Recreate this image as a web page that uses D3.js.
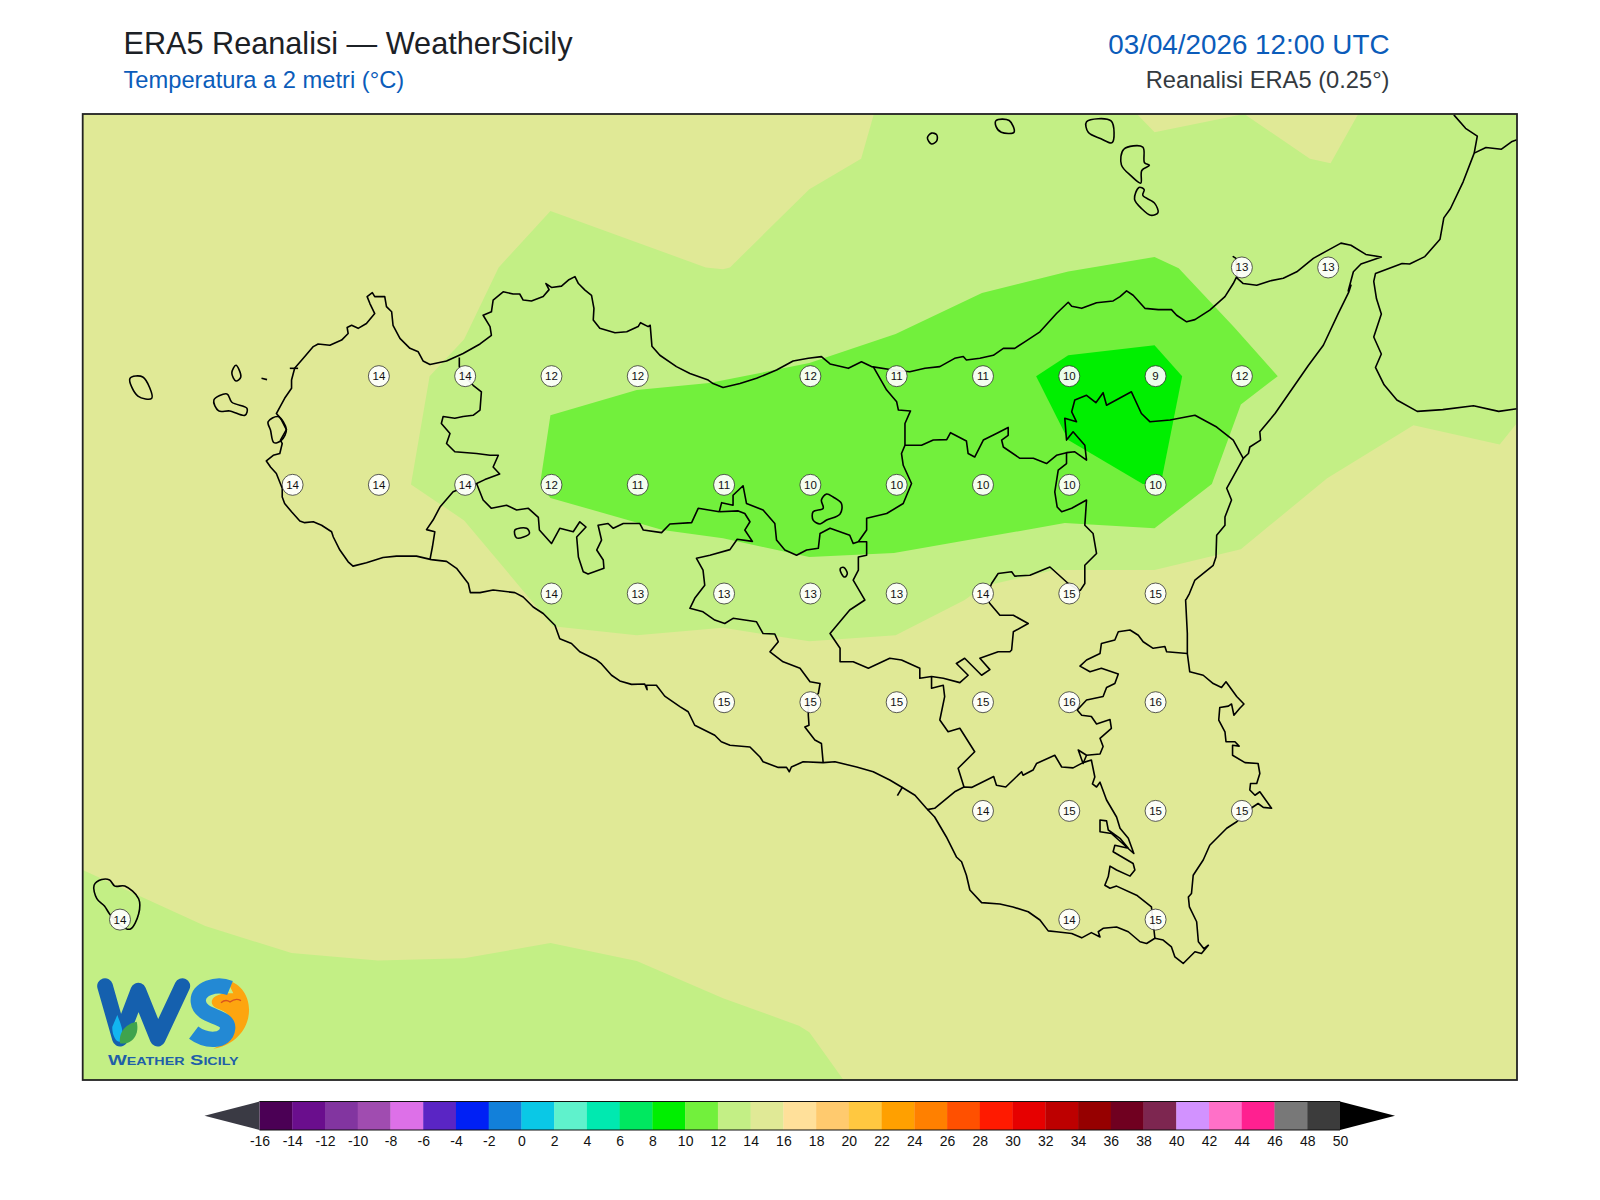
<!DOCTYPE html>
<html>
<head>
<meta charset="utf-8">
<title>ERA5 Reanalisi - WeatherSicily</title>
<script src="https://cdn.jsdelivr.net/npm/d3@7"></script>
<style>
  html, body { margin: 0; padding: 0; background: #fff; }
  svg { display: block; font-family: "Liberation Sans", Arial, sans-serif; }
</style>
</head>
<body>
<svg id="chart" width="1600" height="1200"></svg>
<script>
// temperature levels and colours of the colour bar
var levels = [-16,-14,-12,-10,-8,-6,-4,-2,0,2,4,6,8,10,12,14,16,18,20,22,24,26,28,30,32,34,36,38,40,42,44,46,48,50];
var binColors = ['#4b0055','#6a0e8d','#8235a0','#a04cb0','#dd70e8','#5a25c4','#0020f5','#1280da','#0ac8e6','#5ff2cc','#00e9b0','#00e860','#00ef00','#72f03c','#c3ef85','#e0e996','#ffe09a','#ffca6e','#ffc840','#ffa000','#ff8000','#ff5000','#ff1a00','#e60000','#bd0000','#960000','#700020','#7d2650','#d292ff','#ff70c8','#ff2090','#787878','#3c3c3c'];

// grid point values: [lon, lat, temp]
var gridValues = [
  [15.25,38.25,13],[15.5,38.25,13],
  [12.75,38,14],[13,38,14],[13.25,38,12],[13.5,38,12],[14,38,12],[14.25,38,11],[14.5,38,11],[14.75,38,10],[15,38,9],[15.25,38,12],
  [12.5,37.75,14],[12.75,37.75,14],[13,37.75,14],[13.25,37.75,12],[13.5,37.75,11],[13.75,37.75,11],[14,37.75,10],[14.25,37.75,10],[14.5,37.75,10],[14.75,37.75,10],[15,37.75,10],
  [13.25,37.5,14],[13.5,37.5,13],[13.75,37.5,13],[14,37.5,13],[14.25,37.5,13],[14.5,37.5,14],[14.75,37.5,15],[15,37.5,15],
  [13.75,37.25,15],[14,37.25,15],[14.25,37.25,15],[14.5,37.25,15],[14.75,37.25,16],[15,37.25,16],
  [14.5,37,14],[14.75,37,15],[15,37,15],[15.25,37,15],
  [12,36.75,14],[14.75,36.75,14],[15,36.75,15]
];

// filled contour bands, [lon, lat]
var band12North = [[14.187,38.603],[14.949,38.603],[15,38.561],[15.26,38.603],[15.45,38.5],[15.51,38.49],[15.59,38.603],[16.05,38.603],[16.05,37.892],[16,37.843],[15.75,37.887],[15.5,37.765],[15.25,37.602],[15,37.554],[14.71,37.554],[14.505,37.517],[14.45,37.485],[14.25,37.404],[14,37.39],[13.75,37.421],[13.5,37.404],[13.257,37.425],[13,37.668],[12.846,37.751],[12.9,38],[13,38.085],[13.1,38.25],[13.25,38.38],[13.7,38.25],[13.75,38.246],[13.77,38.25],[14,38.43],[14.15,38.5]];
var band12South = [[11.895,36.864],[12.25,36.735],[12.5,36.673],[12.75,36.656],[13,36.661],[13.25,36.696],[13.5,36.655],[13.75,36.569],[13.97,36.506],[14,36.491],[14.1,36.38],[11.895,36.38]];
var band10 = [[13.25,37.91],[13.5,37.968],[13.71,37.984],[14,38.03],[14.25,38.097],[14.5,38.191],[14.75,38.241],[15,38.274],[15.07,38.248],[15.23,38.113],[15.357,38],[15.25,37.935],[15.166,37.752],[15,37.65],[14.74,37.662],[14.245,37.593],[14,37.584],[13.75,37.627],[13.575,37.646],[13.25,37.72],[13.22,37.752]];
var band8 = [[14.657,38],[14.75,38.048],[15,38.071],[15.08,38],[15.018,37.752],[14.966,37.752],[14.75,37.853]];

// coast of Sicily, closed
var coastSicily = [[12.905,37.578],[12.862,37.586],[12.804,37.586],[12.765,37.583],[12.717,37.571],[12.678,37.563],[12.664,37.573],[12.64,37.6],[12.621,37.63],[12.616,37.642],[12.587,37.657],[12.563,37.665],[12.538,37.663],[12.524,37.667],[12.5,37.688],[12.48,37.707],[12.473,37.722],[12.473,37.742],[12.456,37.776],[12.439,37.791],[12.427,37.805],[12.447,37.818],[12.466,37.822],[12.473,37.845],[12.468,37.853],[12.485,37.877],[12.471,37.899],[12.464,37.907],[12.456,37.914],[12.48,37.949],[12.5,37.972],[12.5,37.991],[12.509,38.018],[12.534,38.041],[12.563,38.068],[12.577,38.074],[12.611,38.071],[12.645,38.083],[12.664,38.098],[12.661,38.112],[12.674,38.117],[12.693,38.11],[12.717,38.121],[12.741,38.144],[12.727,38.167],[12.719,38.183],[12.734,38.192],[12.741,38.183],[12.77,38.183],[12.775,38.16],[12.79,38.148],[12.794,38.117],[12.814,38.087],[12.843,38.064],[12.867,38.056],[12.881,38.035],[12.901,38.027],[12.949,38.035],[12.997,38.052],[13.046,38.074],[13.079,38.094],[13.075,38.114],[13.055,38.14],[13.079,38.148],[13.084,38.175],[13.113,38.194],[13.142,38.189],[13.161,38.189],[13.171,38.175],[13.195,38.173],[13.229,38.183],[13.246,38.199],[13.237,38.213],[13.253,38.204],[13.282,38.207],[13.302,38.221],[13.321,38.229],[13.331,38.213],[13.35,38.198],[13.369,38.186],[13.376,38.156],[13.374,38.129],[13.393,38.11],[13.437,38.1],[13.471,38.102],[13.504,38.114],[13.511,38.123],[13.533,38.114],[13.539,38.117],[13.544,38.069],[13.567,38.048],[13.615,38.022],[13.654,38.006],[13.707,37.991],[13.721,37.983],[13.75,37.974],[13.799,37.983],[13.847,37.995],[13.905,38.014],[13.953,38.035],[13.997,38.041],[14.035,38.045],[14.06,38.028],[14.113,38.018],[14.151,38.033],[14.18,38.022],[14.243,38.014],[14.291,38.01],[14.335,38.018],[14.378,38.022],[14.421,38.041],[14.446,38.045],[14.455,38.037],[14.494,38.041],[14.533,38.048],[14.562,38.064],[14.595,38.064],[14.624,38.079],[14.668,38.102],[14.716,38.144],[14.75,38.17],[14.76,38.161],[14.789,38.156],[14.832,38.169],[14.88,38.173],[14.9,38.183],[14.919,38.196],[14.938,38.186],[14.972,38.156],[15.011,38.153],[15.049,38.153],[15.064,38.14],[15.093,38.125],[15.117,38.13],[15.16,38.152],[15.204,38.183],[15.228,38.213],[15.238,38.229],[15.236,38.271],[15.228,38.275],[15.236,38.271],[15.24,38.225],[15.257,38.213],[15.296,38.209],[15.334,38.219],[15.373,38.225],[15.412,38.24],[15.46,38.271],[15.503,38.29],[15.54,38.306],[15.569,38.301],[15.612,38.28],[15.657,38.274],[15.598,38.258],[15.576,38.24],[15.561,38.196],[15.569,38.209],[15.563,38.194],[15.532,38.144],[15.489,38.071],[15.446,38.025],[15.349,37.914],[15.305,37.872],[15.307,37.853],[15.276,37.837],[15.272,37.822],[15.257,37.811],[15.209,37.742],[15.223,37.715],[15.204,37.676],[15.204,37.657],[15.18,37.634],[15.178,37.584],[15.17,37.565],[15.117,37.531],[15.101,37.5],[15.093,37.488],[15.09,37.485],[15.095,37.408],[15.095,37.362],[15.102,37.32],[15.141,37.312],[15.17,37.293],[15.194,37.284],[15.207,37.297],[15.238,37.263],[15.259,37.246],[15.247,37.236],[15.23,37.22],[15.223,37.246],[15.214,37.241],[15.189,37.238],[15.186,37.209],[15.204,37.182],[15.207,37.159],[15.233,37.159],[15.245,37.149],[15.226,37.151],[15.226,37.128],[15.262,37.111],[15.3,37.109],[15.305,37.086],[15.296,37.063],[15.278,37.063],[15.276,37.048],[15.291,37.036],[15.305,37.044],[15.339,37.006],[15.315,37.008],[15.3,37.017],[15.272,37.002],[15.238,36.975],[15.209,36.96],[15.16,36.921],[15.141,36.887],[15.112,36.852],[15.107,36.81],[15.098,36.802],[15.101,36.779],[15.122,36.745],[15.127,36.699],[15.143,36.683],[15.156,36.691],[15.136,36.672],[15.117,36.676],[15.083,36.649],[15.059,36.664],[15.049,36.687],[15.025,36.703],[15.001,36.707],[14.977,36.695],[14.958,36.699],[14.924,36.722],[14.89,36.733],[14.851,36.73],[14.837,36.722],[14.842,36.71],[14.817,36.72],[14.789,36.708],[14.76,36.718],[14.716,36.722],[14.692,36.724],[14.668,36.749],[14.634,36.768],[14.59,36.779],[14.552,36.786],[14.499,36.789],[14.465,36.818],[14.455,36.852],[14.441,36.883],[14.426,36.894],[14.397,36.94],[14.363,36.986],[14.339,37.006],[14.306,37.036],[14.267,37.055],[14.233,37.071],[14.185,37.09],[14.137,37.101],[14.074,37.113],[14.04,37.111],[13.982,37.113],[13.948,37.101],[13.942,37.09],[13.934,37.1],[13.91,37.1],[13.866,37.113],[13.857,37.124],[13.828,37.147],[13.77,37.151],[13.745,37.159],[13.726,37.174],[13.668,37.197],[13.649,37.228],[13.625,37.24],[13.581,37.264],[13.557,37.289],[13.528,37.289],[13.53,37.279],[13.523,37.292],[13.485,37.291],[13.451,37.299],[13.427,37.312],[13.398,37.338],[13.384,37.347],[13.335,37.366],[13.311,37.385],[13.277,37.396],[13.263,37.427],[13.229,37.454],[13.2,37.469],[13.171,37.492],[13.147,37.502],[13.084,37.508],[13.046,37.502],[13.018,37.502],[13.012,37.523],[12.978,37.558],[12.949,37.574],[12.905,37.578]];

// province borders
var borderTpPa = [[12.986,38.043],[12.986,38.022],[13.002,38],[13.026,37.979],[13.05,37.964],[13.046,37.922],[13.026,37.91],[12.997,37.907],[12.973,37.903],[12.939,37.907],[12.934,37.891],[12.959,37.868],[12.949,37.845],[12.973,37.826],[13.036,37.822],[13.075,37.818],[13.099,37.818],[13.084,37.791],[13.103,37.775],[13.06,37.762],[13.036,37.753],[13.002,37.745],[12.968,37.734],[12.93,37.699],[12.91,37.669],[12.891,37.647],[12.915,37.642],[12.908,37.607],[12.901,37.578]];
var borderPaAg = [[13.036,37.753],[13.055,37.715],[13.079,37.696],[13.123,37.703],[13.152,37.692],[13.186,37.696],[13.215,37.675],[13.218,37.646],[13.253,37.615],[13.277,37.65],[13.316,37.642],[13.335,37.665],[13.353,37.653],[13.326,37.63],[13.331,37.584],[13.345,37.55],[13.359,37.545],[13.405,37.558],[13.403,37.577],[13.384,37.6],[13.398,37.623],[13.388,37.657],[13.417,37.661],[13.432,37.65],[13.461,37.661],[13.509,37.661],[13.519,37.646],[13.572,37.64],[13.596,37.66],[13.659,37.663],[13.678,37.696],[13.739,37.688]];
var borderAgCl = [[13.739,37.688],[13.794,37.69],[13.813,37.684],[13.828,37.665],[13.813,37.646],[13.835,37.62],[13.791,37.625],[13.77,37.601],[13.712,37.588],[13.673,37.581],[13.692,37.554],[13.697,37.519],[13.668,37.489],[13.654,37.466],[13.692,37.458],[13.726,37.439],[13.755,37.431],[13.779,37.443],[13.847,37.435],[13.866,37.408],[13.9,37.407],[13.91,37.389],[13.886,37.366],[13.924,37.343],[13.973,37.328],[14.002,37.297],[14.031,37.293],[14.026,37.27],[13.997,37.247],[13.997,37.22],[13.999,37.197],[13.987,37.193],[14.016,37.163],[14.035,37.155],[14.04,37.111]];
var borderEnna = [[14.784,37.506],[14.75,37.523],[14.697,37.561],[14.639,37.542],[14.595,37.54],[14.586,37.55],[14.547,37.546],[14.528,37.523],[14.513,37.492],[14.523,37.477],[14.552,37.45],[14.591,37.45],[14.634,37.431],[14.591,37.412],[14.586,37.37],[14.581,37.366],[14.547,37.366],[14.494,37.351],[14.523,37.325],[14.499,37.312],[14.45,37.351],[14.426,37.339],[14.46,37.312],[14.436,37.295],[14.388,37.305],[14.354,37.309],[14.32,37.305],[14.32,37.328],[14.267,37.347],[14.233,37.351],[14.171,37.328],[14.127,37.343],[14.089,37.343],[14.089,37.374],[14.06,37.408],[14.117,37.462],[14.161,37.485],[14.127,37.531],[14.142,37.554],[14.142,37.584],[14.166,37.588],[14.166,37.619],[14.142,37.619],[14.127,37.615],[14.117,37.634],[14.06,37.65],[14.031,37.638],[14.026,37.604],[13.992,37.6],[13.963,37.588],[13.929,37.6],[13.905,37.623],[13.9,37.661],[13.866,37.692],[13.818,37.707],[13.808,37.748],[13.779,37.726],[13.779,37.703],[13.746,37.709],[13.739,37.688]];
var borderPaEast = [[14.142,37.619],[14.166,37.646],[14.166,37.673],[14.224,37.684],[14.272,37.707],[14.296,37.753],[14.272,37.795],[14.267,37.822],[14.277,37.841],[14.277,37.891],[14.293,37.92],[14.258,37.922],[14.253,37.941],[14.224,37.968],[14.185,38.022]];
var borderMeSouth = [[14.277,37.841],[14.325,37.841],[14.359,37.853],[14.398,37.854],[14.409,37.87],[14.455,37.851],[14.46,37.822],[14.479,37.814],[14.504,37.853],[14.542,37.868],[14.576,37.882],[14.576,37.864],[14.557,37.853],[14.562,37.837],[14.61,37.811],[14.649,37.811],[14.687,37.799],[14.716,37.818],[14.745,37.824],[14.769,37.826],[14.803,37.807],[14.798,37.841],[14.764,37.872],[14.745,37.853],[14.74,37.903],[14.774,37.895],[14.76,37.918],[14.769,37.945],[14.803,37.956],[14.83,37.939],[14.851,37.962],[14.861,37.933],[14.933,37.964],[14.962,37.914],[14.987,37.895],[15.045,37.899],[15.117,37.91],[15.18,37.883],[15.228,37.853],[15.257,37.811]];
var borderEnCt = [[14.745,37.824],[14.745,37.799],[14.721,37.784],[14.711,37.734],[14.718,37.699],[14.731,37.688],[14.76,37.696],[14.803,37.715],[14.798,37.657],[14.822,37.638],[14.832,37.592],[14.798,37.565],[14.798,37.523],[14.784,37.506]];
var borderCtSr = [[15.095,37.362],[15.035,37.366],[15.03,37.378],[14.996,37.374],[14.967,37.389],[14.953,37.404],[14.929,37.416],[14.895,37.412],[14.885,37.393],[14.846,37.385],[14.842,37.362],[14.803,37.347],[14.784,37.333],[14.813,37.32],[14.846,37.328],[14.895,37.315],[14.885,37.293],[14.861,37.284],[14.851,37.263],[14.803,37.255],[14.776,37.232],[14.789,37.22],[14.817,37.217],[14.832,37.2],[14.871,37.21],[14.875,37.19],[14.842,37.167],[14.851,37.148],[14.842,37.131],[14.803,37.128],[14.793,37.109],[14.779,37.14],[14.803,37.128]];
var borderRgCt = [[14.793,37.111],[14.764,37.099],[14.731,37.101],[14.711,37.128],[14.658,37.109],[14.648,37.094],[14.619,37.082],[14.615,37.09],[14.569,37.055],[14.542,37.059],[14.534,37.079],[14.47,37.054],[14.448,37.055],[14.421,37.044],[14.363,37.006],[14.341,37.003]];
var borderClEast = [[14.448,37.055],[14.431,37.098],[14.479,37.136],[14.436,37.19],[14.402,37.182],[14.378,37.209],[14.392,37.263],[14.388,37.289],[14.354,37.282],[14.354,37.309]];
var borderRgSr = [[14.793,37.111],[14.817,37.117],[14.827,37.078],[14.82,37.062],[14.832,37.055],[14.842,37.066],[14.861,37.025],[14.89,36.986],[14.9,36.96],[14.924,36.937],[14.94,36.902],[14.875,36.948],[14.842,36.952],[14.842,36.979],[14.861,36.977],[14.866,36.956],[14.9,36.937],[14.924,36.914],[14.885,36.921],[14.88,36.906],[14.938,36.879],[14.943,36.864],[14.929,36.85],[14.89,36.864],[14.871,36.873],[14.866,36.849],[14.856,36.829],[14.871,36.822],[14.89,36.827],[14.948,36.806],[14.991,36.779],[15.001,36.707]];

// lakes and enclaves
var lakeMarsala = [[12.432,37.895],[12.461,37.907],[12.485,37.877],[12.471,37.853],[12.449,37.847],[12.439,37.876],[12.432,37.895]];
var enclaveAg = [[13.147,37.646],[13.181,37.65],[13.189,37.638],[13.152,37.628],[13.147,37.646]];
var lakePergusa = [[14.09,37.558],[14.1,37.56],[14.11,37.546],[14.103,37.538],[14.093,37.546],[14.09,37.558]];
var enclaveEnna = [[14.05,37.729],[14.069,37.722],[14.093,37.707],[14.089,37.683],[14.05,37.669],[14.031,37.66],[14.011,37.669],[14.011,37.688],[14.04,37.696],[14.035,37.715],[14.05,37.729]];

// islands
var marettimo = [[12.032,37.995],[12.069,37.998],[12.095,37.949],[12.055,37.954],[12.032,37.995]];
var favignana = [[12.275,37.945],[12.313,37.959],[12.327,37.94],[12.371,37.926],[12.365,37.91],[12.321,37.92],[12.289,37.92],[12.275,37.945]];
var levanzo = [[12.327,38.007],[12.339,38.025],[12.353,37.998],[12.339,37.989],[12.327,38.007]];
var formica = [[12.413,37.995],[12.429,37.992]];
var trapaniSalt = [[12.495,38.018],[12.519,38.018]];
var alicudi = [[14.342,38.548],[14.354,38.559],[14.369,38.555],[14.369,38.541],[14.354,38.534],[14.342,38.548]];
var filicudi = [[14.541,38.588],[14.579,38.588],[14.593,38.561],[14.556,38.561],[14.541,38.574],[14.541,38.588]];
var salina = [[14.803,38.585],[14.874,38.587],[14.877,38.537],[14.845,38.546],[14.808,38.561],[14.803,38.585]];
var lipari = [[14.911,38.522],[14.966,38.527],[14.971,38.491],[14.985,38.485],[14.963,38.473],[14.96,38.444],[14.933,38.46],[14.904,38.486],[14.911,38.522]];
var vulcano = [[14.955,38.434],[14.97,38.429],[14.966,38.416],[15,38.398],[15.01,38.376],[14.989,38.37],[14.963,38.385],[14.942,38.407],[14.955,38.434]];
var pantelleria = [[11.928,36.829],[11.95,36.842],[11.973,36.841],[11.988,36.827],[12.017,36.827],[12.057,36.798],[12.057,36.763],[12.032,36.728],[12.003,36.737],[11.973,36.763],[11.958,36.781],[11.936,36.798],[11.928,36.829]];
var capoTick = [[14.27,37.055],[14.255,37.035]];

// Calabria
var coastCalabria = [[15.867,38.601],[15.901,38.57],[15.935,38.552],[15.926,38.513],[15.894,38.447],[15.857,38.385],[15.838,38.364],[15.827,38.315],[15.783,38.275],[15.739,38.258],[15.717,38.259],[15.64,38.236],[15.635,38.218],[15.643,38.178],[15.657,38.143],[15.635,38.09],[15.657,38.051],[15.64,38.02],[15.665,37.98],[15.702,37.945],[15.761,37.919],[15.835,37.923],[15.924,37.932],[15.997,37.919],[16.05,37.925]];
var borderCalabria = [[15.926,38.513],[15.96,38.526],[16.005,38.522],[16.034,38.539],[16.05,38.544]];

var mapLines = [coastSicily, borderTpPa, borderPaAg, borderAgCl, borderEnna, borderPaEast, borderMeSouth, borderEnCt, borderCtSr, borderRgCt, borderClEast, borderRgSr, capoTick, coastCalabria, borderCalabria, formica, trapaniSalt];
var roundShapes = [lakeMarsala, enclaveAg, lakePergusa, enclaveEnna, marettimo, favignana, levanzo, alicudi, filicudi, salina, lipari, vulcano, pantelleria];

;(function (window, document, undefined) {

  'use strict';

  var svg = d3.select('#chart');

  var frame = { left: 82.7, right: 1517, top: 114, bottom: 1080 };

  var x = d3.scaleLinear().domain([11.895, 16.05]).range([frame.left, frame.right]);
  var y = d3.scaleLinear().domain([38.603, 36.381]).range([frame.top, frame.bottom]);

  var toPath = d3.line()
    .x(function (d) { return x(d[0]); })
    .y(function (d) { return y(d[1]); });

  var toCurve = d3.line()
    .curve(d3.curveCatmullRomClosed.alpha(0.5))
    .x(function (d) { return x(d[0]); })
    .y(function (d) { return y(d[1]); });

  var color = d3.scaleThreshold().domain(levels.slice(1, -1)).range(binColors);

  // headers
  var header = [
    { text: 'ERA5 Reanalisi \u2014 WeatherSicily', px: 123.5, py: 53.5, size: 30.65, fill: '#1c2126', anchor: 'start' },
    { text: 'Temperatura a 2 metri (\u00b0C)', px: 123.5, py: 88, size: 23.7, fill: '#0b5cba', anchor: 'start' },
    { text: '03/04/2026 12:00 UTC', px: 1389.5, py: 54, size: 27.8, fill: '#0b5cba', anchor: 'end' },
    { text: 'Reanalisi ERA5 (0.25\u00b0)', px: 1389.5, py: 88, size: 23.7, fill: '#343a40', anchor: 'end' }
  ];

  svg.selectAll('text.header')
    .data(header)
    .enter().append('text')
    .attr('class', 'header')
    .attr('x', function (d) { return d.px; })
    .attr('y', function (d) { return d.py; })
    .attr('text-anchor', function (d) { return d.anchor; })
    .attr('font-size', function (d) { return d.size; })
    .attr('fill', function (d) { return d.fill; })
    .text(function (d) { return d.text; });

  // map
  svg.append('clipPath').attr('id', 'mapClip').append('rect')
    .attr('x', frame.left).attr('y', frame.top)
    .attr('width', frame.right - frame.left).attr('height', frame.bottom - frame.top);

  var map = svg.append('g').attr('clip-path', 'url(#mapClip)');

  map.append('rect')
    .attr('x', frame.left).attr('y', frame.top)
    .attr('width', frame.right - frame.left).attr('height', frame.bottom - frame.top)
    .attr('fill', color(15));

  var bands = [
    { points: band12North, temp: 13 },
    { points: band12South, temp: 13 },
    { points: band10, temp: 11 },
    { points: band8, temp: 9 }
  ];

  map.selectAll('path.band')
    .data(bands)
    .enter().append('path')
    .attr('class', 'band')
    .attr('d', function (d) { return toPath(d.points) + 'Z'; })
    .attr('fill', function (d) { return color(d.temp); });

  map.selectAll('path.geo')
    .data(mapLines)
    .enter().append('path')
    .attr('class', 'geo')
    .attr('d', toPath)
    .attr('fill', 'none')
    .attr('stroke', '#000')
    .attr('stroke-width', 1.6)
    .attr('stroke-linejoin', 'round');

  map.selectAll('path.round')
    .data(roundShapes)
    .enter().append('path')
    .attr('class', 'round')
    .attr('d', function (d) { return toCurve(d.slice(0, -1)); })
    .attr('fill', 'none')
    .attr('stroke', '#000')
    .attr('stroke-width', 1.6);

  // grid point labels, the ERA5 grid sits a hair east of the traced outlines
  var labelNudge = 0.003;
  var cells = map.selectAll('g.cell')
    .data(gridValues)
    .enter().append('g')
    .attr('class', 'cell')
    .attr('transform', function (d) { return 'translate(' + x(d[0] + labelNudge) + ',' + y(d[1]) + ')'; });

  cells.append('circle')
    .attr('r', 10.5)
    .attr('fill', '#fff')
    .attr('fill-opacity', 0.92)
    .attr('stroke', '#333')
    .attr('stroke-width', 0.8);

  cells.append('text')
    .attr('text-anchor', 'middle')
    .attr('y', 4)
    .attr('font-size', 11.5)
    .attr('fill', '#111')
    .text(function (d) { return d[2]; });

  // logo
  var logo = map.append('g').attr('transform', 'translate(85,960) scale(0.3333)');
  logo.append('path')
    .attr('d', 'M425,60 C525,85 515,245 385,266 C455,235 470,170 395,145 C365,130 380,95 445,100 Z')
    .attr('fill', '#fda50f');
  logo.append('path')
    .attr('d', 'M60,78 L105,236 L160,92 L218,236 L292,78')
    .attr('fill', 'none').attr('stroke', '#1560ae').attr('stroke-width', 47)
    .attr('stroke-linejoin', 'round').attr('stroke-linecap', 'round');
  logo.append('path')
    .attr('d', 'M435,84 C395,68 336,85 340,125 C345,175 432,165 428,205 C424,248 362,245 326,218')
    .attr('fill', 'none').attr('stroke', '#2389d4').attr('stroke-width', 46);
  logo.append('path')
    .attr('d', 'M97,165 C110,200 118,215 108,245 C92,250 80,220 82,200 Z')
    .attr('fill', '#12b6f0');
  logo.append('path')
    .attr('d', 'M105,250 C100,215 125,190 155,185 C165,225 140,255 105,250 Z')
    .attr('fill', '#3fa34d');
  logo.append('path')
    .attr('d', 'M408,128 C420,118 430,122 435,126 C445,118 458,116 468,122')
    .attr('fill', 'none').attr('stroke', '#d9541e').attr('stroke-width', 4);
  logo.append('text')
    .attr('x', 265).attr('y', 315)
    .attr('text-anchor', 'middle')
    .attr('font-size', 46)
    .attr('font-weight', 'bold')
    .attr('font-variant', 'small-caps')
    .attr('textLength', 392)
    .attr('lengthAdjust', 'spacingAndGlyphs')
    .attr('fill', '#1f5fa8')
    .text('Weather Sicily');

  svg.append('rect')
    .attr('x', frame.left).attr('y', frame.top)
    .attr('width', frame.right - frame.left).attr('height', frame.bottom - frame.top)
    .attr('fill', 'none')
    .attr('stroke', '#222')
    .attr('stroke-width', 1.8);

  // colour bar
  var barX = d3.scaleLinear().domain([-16, 50]).range([259.5, 1340]);
  var barTop = 1101.5;
  var barBottom = 1130;
  var tipLeft = 204.5;
  var tipRight = 1395;

  var bar = svg.append('g');

  bar.selectAll('rect.bin')
    .data(binColors)
    .enter().append('rect')
    .attr('class', 'bin')
    .attr('x', function (d, i) { return barX(levels[i]); })
    .attr('y', barTop)
    .attr('width', function (d, i) { return barX(levels[i + 1]) - barX(levels[i]) + 0.3; })
    .attr('height', barBottom - barTop)
    .attr('fill', function (d) { return d; });

  var barMid = (barTop + barBottom) / 2;
  bar.append('path')
    .attr('d', 'M' + barX(-16) + ',' + barTop + 'L' + tipLeft + ',' + barMid + 'L' + barX(-16) + ',' + barBottom + 'Z')
    .attr('fill', '#3a3a44');
  bar.append('path')
    .attr('d', 'M' + barX(50) + ',' + barTop + 'L' + tipRight + ',' + barMid + 'L' + barX(50) + ',' + barBottom + 'Z')
    .attr('fill', '#000');
  bar.append('path')
    .attr('d', 'M' + barX(-16) + ',' + barTop + 'H' + barX(50) + 'M' + barX(-16) + ',' + barBottom + 'H' + barX(50))
    .attr('stroke', '#111')
    .attr('stroke-width', 1.2)
    .attr('fill', 'none');

  var axis = d3.axisBottom(barX)
    .tickValues(levels)
    .tickSize(0)
    .tickPadding(6)
    .tickFormat(function (d) { return String(d); });

  var axisG = bar.append('g')
    .attr('transform', 'translate(0,' + barBottom + ')')
    .call(axis);
  axisG.select('.domain').remove();
  axisG.selectAll('text')
    .attr('font-family', '"Liberation Sans", Arial, sans-serif')
    .attr('font-size', 14)
    .attr('fill', '#111');

})(window, document);
</script>
</body>
</html>
